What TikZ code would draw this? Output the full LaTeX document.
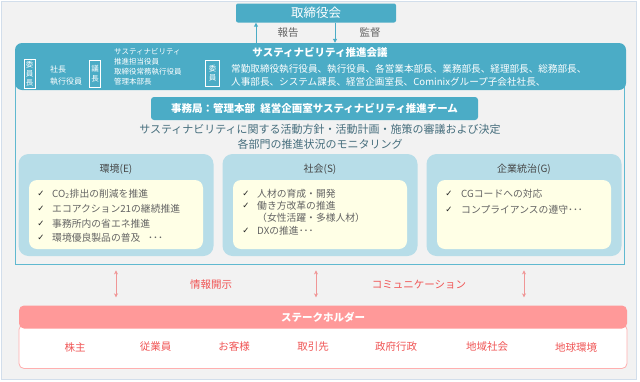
\documentclass[tikz,border=0pt]{standalone}
\usepackage{fontspec}
\setmainfont{Noto Sans CJK JP}
\newfontfamily\symfont{DejaVu Sans}
\usetikzlibrary{arrows.meta}
\definecolor{teal1}{RGB}{75,172,198}
\definecolor{tealline}{RGB}{96,185,208}
\definecolor{catbg}{RGB}{183,221,232}
\definecolor{cream}{RGB}{255,255,230}
\definecolor{salmon}{RGB}{255,153,153}
\definecolor{salmonline}{RGB}{255,175,175}
\definecolor{redtxt}{RGB}{240,85,85}
\definecolor{graytxt}{RGB}{100,100,100}
\definecolor{titletxt}{RGB}{70,70,70}
\definecolor{desctxt}{RGB}{70,110,125}
\definecolor{bgray}{RGB}{242,242,242}
\definecolor{frameline}{RGB}{210,222,235}
\definecolor{arrowred}{RGB}{240,150,150}
\newcommand\fsz[2]{\fontsize{#1}{#2}\selectfont}
\newcommand\chkmark{{\symfont\fsz{8.5}{9}✓}}
\begin{document}
\begin{tikzpicture}[x=1pt,y=-1pt,
  tealbox/.style={fill=teal1,draw=none,text=white,inner sep=0pt},
  vbox/.style={draw=white,line width=0.7pt,inner sep=0pt,text=white,align=center,font=\fsz{7.5}{9.3}},
  wtxt/.style={text=white,inner sep=0pt},
  catbox/.style={fill=catbg,draw=none,rounded corners=10pt,minimum width=195pt,minimum height=102pt,inner sep=0pt},
  innerbox/.style={fill=cream,draw=none,rounded corners=8pt,minimum width=174pt,minimum height=69pt,inner sep=0pt},
  cattitle/.style={text=titletxt,font=\fsz{10}{12},inner sep=0pt},
  itemtxt/.style={text=graytxt,font=\fsz{9.8}{12},anchor=west,inner sep=0pt},
  chk/.style={text=black!85,inner sep=0pt},
  shitem/.style={text=redtxt,font=\fsz{10.5}{12},inner sep=0pt},
  tarr/.style={draw=teal1,line width=1pt,-{Triangle[length=4pt,width=4pt]}},
  darr/.style={draw=arrowred,line width=1pt,{Stealth[length=4pt,width=4pt]}-{Stealth[length=4pt,width=4pt]}},
  lbl/.style={text=graytxt,font=\fsz{10.5}{12},inner sep=0pt},
  rlbl/.style={text=redtxt,font=\fsz{10.5}{12},inner sep=0pt}
]
\useasboundingbox (0,0) rectangle (640,381);
\fill[white] (0,0) rectangle (640,381);
\filldraw[fill=bgray,draw=frameline,line width=1pt] (1,1) rectangle (636,379);

% board
\node[tealbox,rounded corners=2pt,minimum width=160pt,minimum height=19pt,font=\fsz{12.5}{14}] (board) at (316,13) {取締役会};

% outline frame of council
\node[draw=tealline,line width=0.8pt,minimum width=609pt,minimum height=204pt,inner sep=0pt] (frame) at (319.5,162) {};

% council header
\node[tealbox,rounded corners=7pt,minimum width=611pt,minimum height=47pt] (council) at (320.5,66.5) {};
\node[wtxt,font=\bfseries\fsz{10.5}{12}] (ctitle) at (320,52) {サスティナビリティ推進会議};

\node[vbox,minimum width=11pt,minimum height=29pt] (chairbox) at (29.5,73.5) {委\\員\\長};
\node[wtxt,anchor=west,font=\fsz{8}{10}] (pres) at (50,69) {社長};
\node[wtxt,anchor=west,font=\fsz{8}{10}] (exec) at (50,82) {執行役員};

\node[vbox,minimum width=11pt,minimum height=27pt] (speakerbox) at (95,73.5) {議\\長};
\node[wtxt,anchor=west,align=left,font=\fsz{7.5}{10}] (speaker) at (114,67) {サスティナビリティ\\推進担当役員\\取締役常務執行役員\\管理本部長};

\node[vbox,minimum width=14pt,minimum height=26pt] (memberbox) at (212.5,73) {委\\員};
\node[wtxt,anchor=west,align=left,font=\fsz{9.6}{13}] (members) at (231,75.5) {常勤取締役執行役員、執行役員、各営業本部長、業務部長、経理部長、総務部長、\\人事部長、システム課長、経営企画室長、Cominixグループ子会社社長、};

% arrows board <-> council
\coordinate (ua) at (256,0);
\coordinate (da) at (335,0);
\draw[tarr] (council.north -| ua) -- (board.south -| ua);
\draw[tarr] (board.south -| da) -- (council.north -| da);
\node[lbl] (report) at (288,33) {報告};
\node[lbl] (supervise) at (370,33) {監督};

% secretariat
\node[tealbox,rounded corners=3pt,minimum width=327pt,minimum height=23pt,font=\bfseries\fsz{10.5}{12}] (secr) at (314.5,108.5) {事務局：管理本部\hspace{0.5em}経営企画室サスティナビリティ推進チーム};
\node[text=desctxt,font=\fsz{11}{13},inner sep=0pt] (desc1) at (320,129) {サスティナビリティに関する活動方針・活動計画・施策の審議および決定};
\node[text=desctxt,font=\fsz{11}{13},inner sep=0pt] (desc2) at (320,144) {各部門の推進状況のモニタリング};

% categories
\node[catbox] (catE) at (116,205) {};
\node[catbox] (catS) at (320,205) {};
\node[catbox] (catG) at (524,205) {};
\node[cattitle] (tE) at (116,169) {環境(E)};
\node[cattitle] (tS) at (320,169) {社会(S)};
\node[cattitle] (tG) at (524,169) {企業統治(G)};
\node[innerbox] (inE) at (116,214.5) {};
\node[innerbox] (inS) at (320,214.5) {};
\node[innerbox] (inG) at (524,214.5) {};

% E items
\node[chk] (cE1) at (41,194) {\chkmark}; \node[itemtxt] (iE1) at (52,194) {CO\textsubscript{2}排出の削減を推進};
\node[chk] (cE2) at (41,209) {\chkmark}; \node[itemtxt] (iE2) at (52,209) {エコアクション21の継続推進};
\node[chk] (cE3) at (41,224) {\chkmark}; \node[itemtxt] (iE3) at (52,224) {事務所内の省エネ推進};
\node[chk] (cE4) at (41,238) {\chkmark}; \node[itemtxt] (iE4) at (52,238) {環境優良製品の普及\hspace{0.8em}･･･};
% S items
\node[chk] (cS1) at (246,194) {\chkmark}; \node[itemtxt] (iS1) at (257,194) {人材の育成・開発};
\node[chk] (cS2) at (246,206) {\chkmark}; \node[itemtxt] (iS2) at (257,206) {働き方改革の推進};
\node[itemtxt] (iS2b) at (257,218) {（女性活躍・多様人材）};
\node[chk] (cS3) at (246,231) {\chkmark}; \node[itemtxt] (iS3) at (257,231) {DXの推進･･･};
% G items
\node[chk] (cG1) at (449,194) {\chkmark}; \node[itemtxt] (iG1) at (461,194) {CGコードへの対応};
\node[chk] (cG2) at (449,210) {\chkmark}; \node[itemtxt] (iG2) at (461,210) {コンプライアンスの遵守･･･};

% stakeholders
\node[fill=white,draw=salmonline,line width=0.8pt,rounded corners=5pt,minimum width=608pt,minimum height=44pt,inner sep=0pt] (shbox) at (323,346.5) {};
\node[fill=salmon,draw=none,rounded corners=5pt,minimum width=608pt,minimum height=23pt,inner sep=0pt,text=white,font=\bfseries\fsz{10.5}{12}] (sh) at (323,317) {ステークホルダー};

\coordinate (a1) at (116,0);
\coordinate (a2) at (316,0);
\coordinate (a3) at (524,0);
\draw[darr,shorten <=6pt,shorten >=8pt] (frame.south -| a1) -- (sh.north -| a1);
\draw[darr,shorten <=6pt,shorten >=8pt] (frame.south -| a2) -- (sh.north -| a2);
\draw[darr,shorten <=6pt,shorten >=8pt] (frame.south -| a3) -- (sh.north -| a3);
\node[rlbl] (disc) at (211,285) {情報開示};
\node[rlbl] (comm) at (419,285) {コミュニケーション};

\node[shitem] (s1) at (75,347) {株主};
\node[shitem] (s2) at (155.5,347) {従業員};
\node[shitem] (s3) at (234,347) {お客様};
\node[shitem] (s4) at (313,347) {取引先};
\node[shitem] (s5) at (396,347) {政府行政};
\node[shitem] (s6) at (487,347) {地域社会};
\node[shitem] (s7) at (576,347) {地球環境};
\end{tikzpicture}
\end{document}
